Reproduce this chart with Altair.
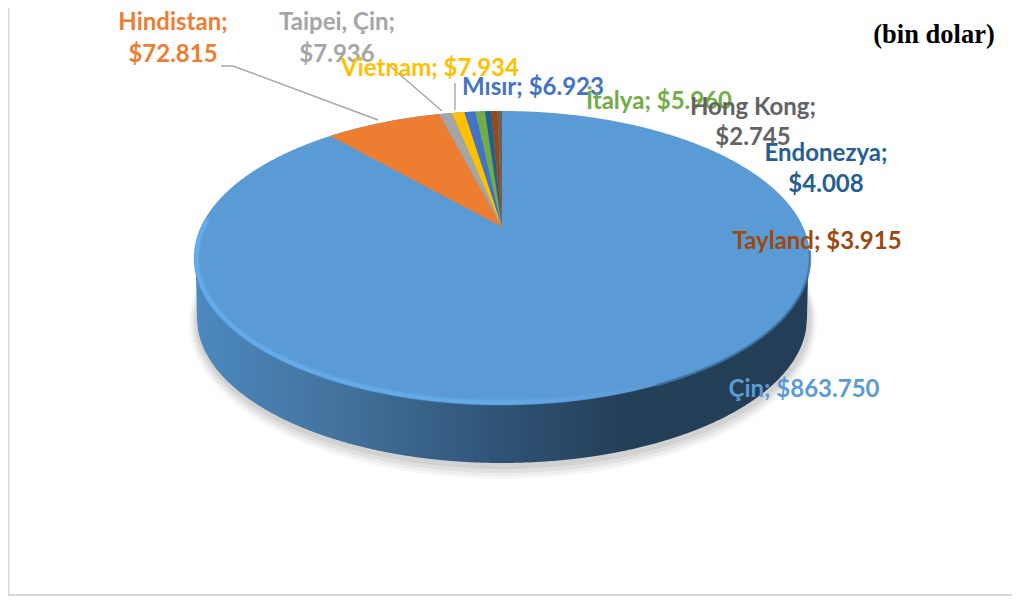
import math
import altair as alt
import pandas as pd

NAMES = ["Çin", "Hindistan", "Taipei, Çin", "Vietnam", "Mısır", "İtalya", "Endonezya", "Tayland", "Hong Kong"]
VALUES = [863750, 72815, 7936, 7934, 6923, 5960, 4008, 3915, 2745]
COLORS = ["#5b9bd5", "#ed7d31", "#a5a5a5", "#ffc000", "#4472c4", "#70ad47", "#255e91", "#9e480e", "#636363"]
UNIT_NOTE = "(bin dolar)"

LABEL_POS = {
    "Çin": [(804, 390)],
    "Hindistan": [(173, 23), (173, 55)],
    "Taipei, Çin": [(337, 23), (337, 55)],
    "Vietnam": [(430, 69)],
    "Mısır": [(533, 88)],
    "İtalya": [(659, 102)],
    "Endonezya": [(826, 154), (826, 185)],
    "Tayland": [(817, 242)],
    "Hong Kong": [(753, 108), (753, 138)],
}
LABEL_ORDER = ["Çin", "Hindistan", "Taipei, Çin", "Vietnam", "Mısır", "İtalya", "Hong Kong", "Endonezya", "Tayland"]
LEADERS = [
    [(221, 66), (233, 66), (378, 120)],
    [(390, 66), (442, 111)],
    [(455, 83), (455, 110)],
]

W, H = 1004, 588
CX, CY, RX, RY = 502, 258, 308, 147
LCY, LRX, LRY = 318, 305, 145
APEX_Y = 227
V0 = (APEX_Y - CY) / RY

X = alt.X("x:Q", axis=None, scale=alt.Scale(domain=[8, 8 + W], nice=False, zero=False))
Y = alt.Y("y:Q", axis=None, stack=None, scale=alt.Scale(domain=[8 + H, 8], nice=False, zero=False))
Y2 = alt.Y2("y2:Q")


def ell(cx, rx, n=361):
    return [cx - rx + 2 * rx * i / (n - 1) for i in range(n)]


def half(x, cx, rx):
    u = max(-1.0, min(1.0, (x - cx) / rx))
    return math.sqrt(1 - u * u)


def ellipse_df(cx, cy, rx, ry):
    rows = []
    n = 720
    for i in range(n + 1):
        t = -math.pi / 2 + math.pi * i / n
        x = cx + rx * math.sin(t)
        s = math.cos(t)
        rows.append({"x": x, "y": cy - ry * s, "y2": cy + ry * s})
    return pd.DataFrame(rows)


def ring_point(theta):
    u, v = math.sin(theta), -math.cos(theta)
    d = 1 + V0 * v
    uu = u * math.sqrt(1 - V0 * V0) / d
    vv = (v + V0) / d
    return CX + RX * uu, CY + RY * vv


def wedge(name, a, b):
    n = 80
    pts = [ring_point(a + (b - a) * i / n) for i in range(n + 1)]
    x1, y1 = pts[0]
    rows = []
    for (x, y) in pts:
        low = y1 + (APEX_Y - y1) * (x - x1) / (CX - x1)
        rows.append({"name": name, "x": x, "y": y, "y2": low})
    rows.append({"name": name, "x": CX, "y": APEX_Y, "y2": APEX_Y})
    return rows


total = sum(VALUES)
layers = []


def solid(df, **kw):
    return alt.Chart(df).mark_area(orient="vertical", **kw).encode(x=X, y=Y, y2=Y2)


for (dy, dx, ry, op) in [(5, 9, 156, 0.03), (4, 7, 154, 0.04), (3, 5, 152, 0.05), (2, 3, 149, 0.06)]:
    layers.append(solid(ellipse_df(CX + 1, LCY + dy, LRX + dx, ry), color="#000000", opacity=op))

side_rows = []
for x in ell(CX, RX, 617):
    lower = CY + RY * half(x, CX, RX)
    if abs(x - CX) <= LRX:
        lower = max(lower, LCY + LRY * half(x, CX, LRX))
    side_rows.append({"x": x, "y": CY, "y2": lower})
side_grad = alt.Gradient(
    gradient="linear", x1=0, x2=1, y1=0, y2=0,
    stops=[
        alt.GradientStop(offset=0.0, color="#4b89bf"),
        alt.GradientStop(offset=0.22, color="#44749f"),
        alt.GradientStop(offset=0.50, color="#2f5375"),
        alt.GradientStop(offset=0.70, color="#243f58"),
        alt.GradientStop(offset=1.0, color="#233e56"),
    ],
)
layers.append(solid(pd.DataFrame(side_rows), color=side_grad))

color_scale = alt.Scale(domain=NAMES, range=COLORS)
top = ellipse_df(CX, CY, RX, RY)
top["name"] = NAMES[0]
rows = top.to_dict("records")
cum = VALUES[0] / total
for name, v in zip(NAMES[1:], VALUES[1:]):
    a = 2 * math.pi * cum
    cum += v / total
    rows += wedge(name, a - 2 * math.pi, 2 * math.pi * cum - 2 * math.pi)
pie_df = pd.DataFrame(rows)
layers.append(
    alt.Chart(pie_df).mark_area(orient="vertical").encode(
        x=X, y=Y, y2=Y2,
        color=alt.Color("name:N", scale=color_scale, legend=None, sort=NAMES),
    )
)

rim_grad = alt.Gradient(
    gradient="linear", x1=0, x2=1, y1=0, y2=0,
    stops=[
        alt.GradientStop(offset=0.0, color="#67b0f0"),
        alt.GradientStop(offset=0.55, color="#66aeee"),
        alt.GradientStop(offset=0.85, color="#5b9bd5"),
        alt.GradientStop(offset=1.0, color="#5b9bd5"),
    ],
)
rim = []
for i in range(200):
    t = math.radians(285 - 155 * i / 199)
    rim.append({"x": CX + (RX - 2.5) * math.sin(t), "y": CY - (RY - 2.5) * math.cos(t), "k": i})
rim_df = pd.DataFrame(rim)
for (sw, op) in [(6, 0.3), (4, 0.4), (2, 0.6)]:
    layers.append(alt.Chart(rim_df).mark_line(stroke=rim_grad, strokeWidth=sw, opacity=op, strokeCap="round").encode(x=X, y=Y, order="k:Q"))

edge = []
for i in range(120):
    t = math.radians(30 + 63 * i / 119)
    edge.append({"x": CX + RX * math.sin(t), "y": CY + RY * math.cos(t), "k": i})
edge_df = pd.DataFrame(edge)
layers.append(alt.Chart(edge_df).mark_line(stroke="#3f729f", strokeWidth=2.5, opacity=0.8).encode(x=X, y=Y, order="k:Q"))

frame_df = pd.DataFrame([
    {"x": 8.5, "y": 8, "k": 0},
    {"x": 8.5, "y": 595, "k": 1},
    {"x": 1012, "y": 595, "k": 2},
])
layers.append(alt.Chart(frame_df).mark_line(color="#d9d9d9", strokeWidth=2).encode(x=X, y=Y, order="k:Q"))

lead_rows = []
for li, seg in enumerate(LEADERS):
    for k, (x, y) in enumerate(seg):
        lead_rows.append({"x": x, "y": y, "k": k, "l": li})
layers.append(
    alt.Chart(pd.DataFrame(lead_rows)).mark_line(color="#a6a6a6", strokeWidth=1.4).encode(
        x=X, y=Y, detail="l:N", order="k:Q"
    )
)


def money(v):
    return "$" + f"{v:,}".replace(",", ".")


for name in LABEL_ORDER:
    i = NAMES.index(name)
    pos = LABEL_POS[name]
    if len(pos) == 1:
        texts = [f"{name}; {money(VALUES[i])}"]
    else:
        texts = [f"{name};", money(VALUES[i])]
    df = pd.DataFrame([{"x": p[0], "y": p[1], "t": t} for p, t in zip(pos, texts)])
    layers.append(
        alt.Chart(df).mark_text(
            font="Lato", fontWeight="bold", fontSize=24, color=COLORS[i], align="center", baseline="middle"
        ).encode(x=X, y=Y, text="t:N")
    )

layers.append(
    alt.Chart(pd.DataFrame([{"x": 934, "y": 35, "t": UNIT_NOTE}])).mark_text(
        font="Liberation Serif", fontWeight="bold", fontSize=26.5, color="#000000", align="center", baseline="middle"
    ).encode(x=X, y=Y, text="t:N")
)

chart = alt.layer(*layers).properties(
    width=W, height=H, padding=0, background="#ffffff", autosize=alt.AutoSizeParams(type="none")
).configure_view(stroke=None)

chart.save("out.html", embed_options={"renderer": "svg", "actions": False})
